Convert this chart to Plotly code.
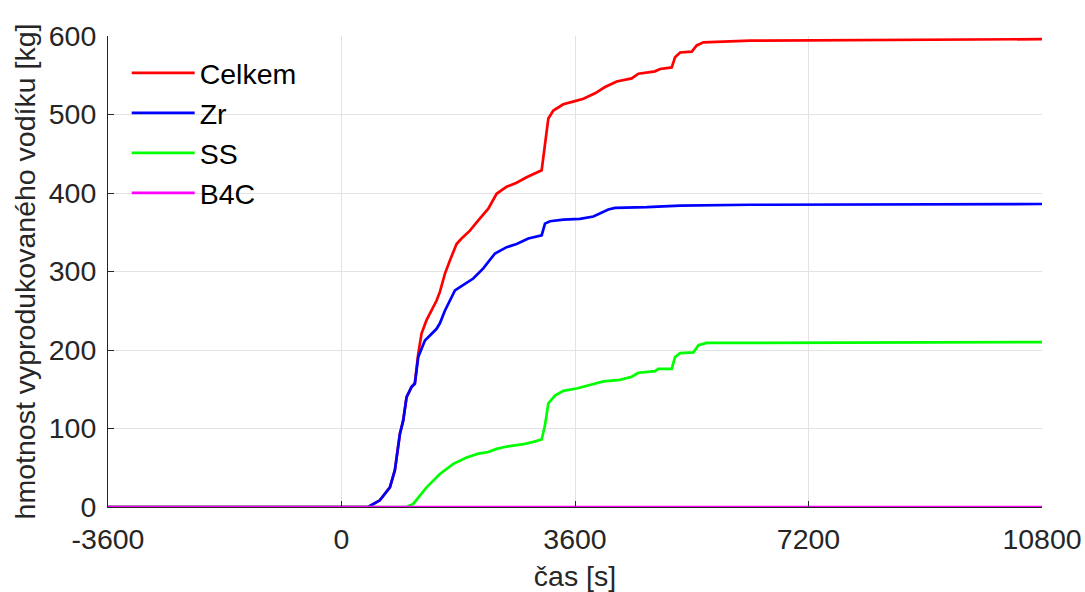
import plotly.graph_objects as go

# ---- data ----
t_celkem = [-3600, 0, 411, 591, 746, 823, 900, 951, 1003, 1080, 1131, 1183, 1234, 1311, 1389, 1466,
            1517, 1594, 1671, 1774, 1851, 1980, 2109, 2263, 2391, 2546, 2700, 2854, 3086, 3137,
            3189, 3266, 3420, 3600, 3729, 3909, 4063, 4243, 4474, 4577, 4834, 4911, 5091, 5143,
            5220, 5400, 5477, 5580, 6300, 10800]
v_celkem = [0, 0, 0, 8.5, 25, 47, 93, 110, 140, 153, 158, 195, 221, 238, 250, 263,
            274, 297, 314, 335, 342, 352, 365, 380, 399, 408, 413, 420, 429, 459,
            495, 505, 513, 517, 520, 527, 535, 542, 546, 552, 555, 558, 560, 573,
            579, 580, 588, 592, 594, 596]

t_zr = [-3600, 0, 411, 591, 746, 823, 900, 951, 1003, 1080, 1131, 1183, 1286, 1466, 1517, 1594,
        1749, 1826, 2031, 2186, 2366, 2546, 2700, 2880, 3086, 3137, 3214, 3420, 3677, 3883,
        3986, 4114, 4217, 4706, 5220, 6300, 10800]
v_zr = [0, 0, 0, 8.5, 25, 47, 93, 110, 140, 153, 157, 191, 212, 227, 234, 250,
        276, 280, 291, 304, 323, 331, 335, 342, 346, 361, 364, 366, 367, 370,
        374, 379, 381, 382, 384, 385, 386]

t_ss = [-3600, 1003, 1106, 1311, 1517, 1723, 1929, 2109, 2263, 2391, 2546, 2803, 2957, 3086,
        3137, 3189, 3291, 3420, 3626, 3832, 4037, 4294, 4474, 4577, 4834, 4886, 5091, 5143,
        5220, 5426, 5503, 5631, 6300, 10800]
v_ss = [0, 0, 4, 25, 42, 55, 63, 68, 70, 74, 77, 80, 83, 86,
        104, 132, 142, 148, 151, 156, 160, 162, 166, 171, 173, 176, 176, 191,
        196, 197, 206, 209, 209, 210]

t_b4c = [-3600, 10800]
v_b4c = [0, 0]

x_ticks = [-3600, 0, 3600, 7200, 10800]
y_ticks = [0, 100, 200, 300, 400, 500, 600]

series = [
    ("Celkem", t_celkem, v_celkem, "#ff0000"),
    ("Zr", t_zr, v_zr, "#0000ff"),
    ("SS", t_ss, v_ss, "#00ff00"),
    ("B4C", t_b4c, v_b4c, "#ff00ff"),
]

FONT = "Liberation Sans, Arial, sans-serif"
FS = 28.5
fig = go.Figure()
for name, t, v, c in series:
    fig.add_trace(go.Scatter(x=t, y=v, mode="lines", name=name, legendgroup=name,
                             line=dict(color=c, width=2.7), cliponaxis=False))

axis_common = dict(
    showgrid=True, gridcolor="#e3e3e3", gridwidth=1,
    showline=True, linecolor="#262626", linewidth=1,
    ticks="inside", ticklen=6, tickcolor="#262626", tickwidth=1,
    zeroline=False, automargin=False,
    tickfont=dict(family=FONT, size=FS, color="#262626"),
)

fig.update_layout(
    width=1085, height=592,
    margin=dict(l=108, r=43, t=36, b=85),
    paper_bgcolor="white", plot_bgcolor="white",
    font=dict(family=FONT, color="#262626"),
    legend=dict(x=0.02, y=0.975, xanchor="left", yanchor="top",
                bgcolor="rgba(255,255,255,0)", borderwidth=0,
                font=dict(family=FONT, size=FS, color="#000000"),
                itemwidth=63, tracegroupgap=0),
    showlegend=True,
)
fig.update_xaxes(range=[-3600, 10800], tickvals=x_ticks, ticktext=[str(v) for v in x_ticks],
                 ticklabelstandoff=7,
                 title=dict(text="čas [s]", font=dict(family=FONT, size=FS, color="#262626"), standoff=12),
                 **axis_common)
fig.update_yaxes(range=[0, 600], tickvals=y_ticks, ticklabelstandoff=5,
                 title=dict(text="hmotnost vyprodukovaného vodíku [kg]",
                            font=dict(family=FONT, size=FS, color="#262626"), standoff=4),
                 **axis_common)

fig.write_html("out.html")
